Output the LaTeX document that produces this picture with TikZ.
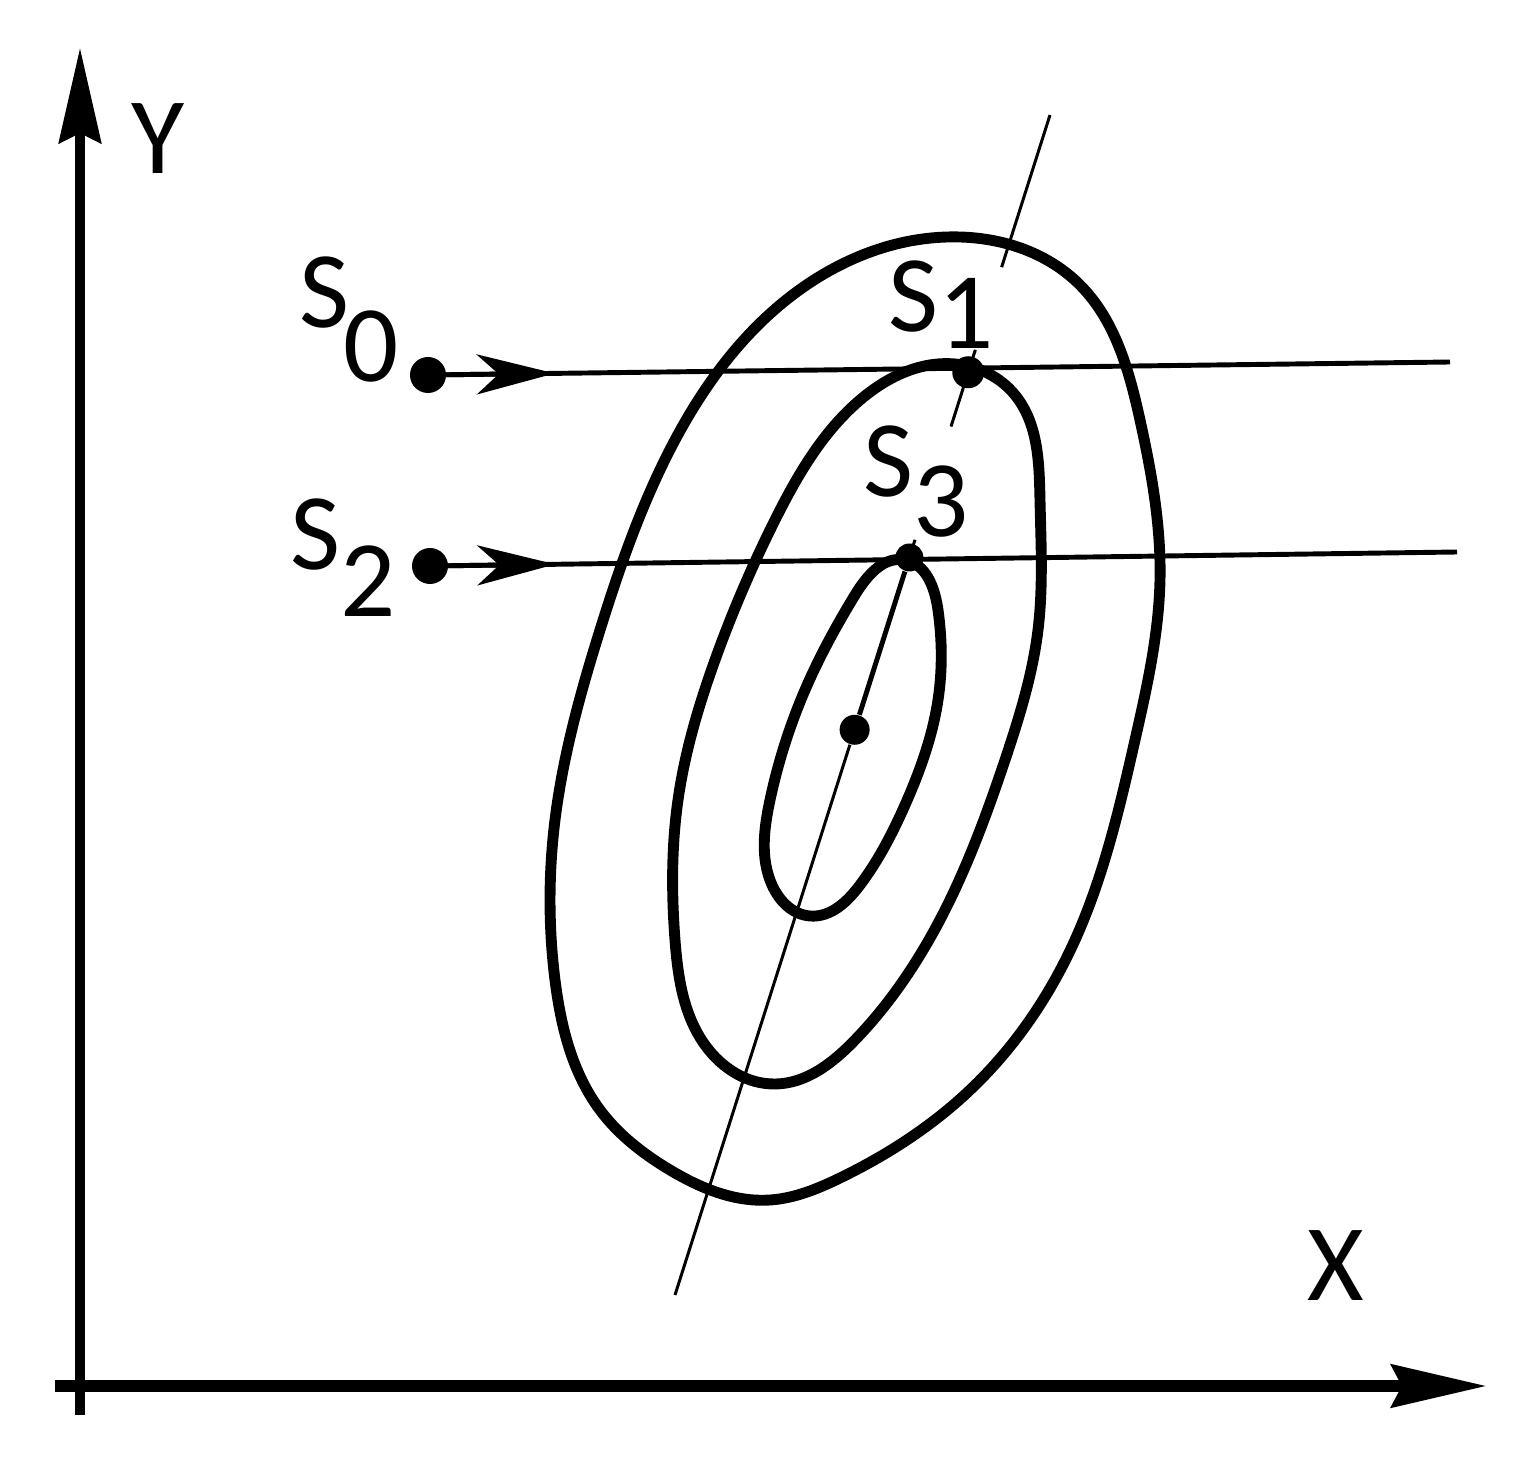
\documentclass[tikz,border=0pt]{standalone}
\usepackage{fontspec}
\setmainfont{Carlito}
\usetikzlibrary{arrows.meta,calc,hobby}
\newcommand{\slabel}[3]{S\kern#3em\raisebox{-#2em}{#1}}
\tikzset{
  contour/.style={line width=3.1pt,line join=round,use Hobby shortcut,closed=true},
  ray/.style={line width=1.4pt},
  guide/.style={line width=0.85pt},
  axis/.style={-{Stealth[length=9.5mm,width=4.2mm,inset=1mm]}},
  flow/.style={ray,-{Stealth[length=7.8mm,width=4mm,inset=2.2mm]}},
  dot/.style={circle,fill,inner sep=0pt,minimum size=#1},
  dot/.default=3mm,
  lbl/.style={inner sep=0pt,font=\fontsize{31}{31}\selectfont},
}
\begin{document}
\begin{tikzpicture}[x=1cm,y=-1cm]
            \useasboundingbox (0,0) rectangle (15.38,14.61);
            % axes
            \coordinate(o1)at(0.80,14.15);
            \coordinate(ytip)at(0.80,0.48);
            \coordinate(o2)at(0.55,13.86);
            \coordinate(xtip)at(14.87,13.86);
            \draw[axis,line width=2.6pt](o1)--(ytip);
            \draw[axis,line width=3.6pt](o2)--(xtip);
            \node[lbl](ylab)at(1.58,1.39){Y};
            \node[lbl](xlab)at(13.36,12.66){X};
            % level curves
            \draw[contour](9.60,2.37)..(10.80,2.85)..(11.40,4.20)..(11.60,5.80)..(11.35,7.40)..(10.75,9.40)..(9.70,10.90)..(8.40,11.78)..(7.70,12.00)..(6.70,11.70)..(6.00,11.10)..(5.55,9.80)..(5.55,8.20)..(6.00,6.30)..(6.75,4.40)..(7.80,3.05);
            \draw[contour](9.55,3.64)..(10.15,3.95)..(10.40,5.00)..(10.38,6.30)..(10.05,7.60)..(9.45,9.10)..(8.55,10.40)..(7.75,10.84)..(7.05,10.45)..(6.75,9.40)..(6.78,8.00)..(7.15,6.60)..(7.75,5.20)..(8.60,4.00);
            \draw[contour](9.05,5.60)..(9.38,6.10)..(9.38,7.00)..(9.05,8.05)..(8.60,8.85)..(8.10,9.16)..(7.72,8.85)..(7.70,8.00)..(8.05,6.90)..(8.55,5.95);
            % search lines
            \coordinate(e0)at(14.50,3.62);
            \coordinate(e2)at(14.57,5.52);
            \coordinate(gtop)at(10.50,1.15);
            \coordinate(gbot)at(6.75,12.95);
            \node[dot=3.6mm](s0)at(4.28,3.75){};
            \node[dot=3.6mm](s2)at(4.30,5.66){};
            \draw[ray](s0.center)--(e0);
            \draw[ray](s2.center)--(e2);
            \draw[flow](s0.center)--($(s0)!0.124!(e0)$);
            \draw[flow](s2.center)--($(s2)!0.122!(e2)$);
            \draw[guide](gtop)--($(gtop)!0.129!(gbot)$);
            \draw[guide]($(gtop)!0.199!(gbot)$)--($(gtop)!0.264!(gbot)$);
            \draw[guide]($(gtop)!0.36!(gbot)$)--($(gtop)!0.375!(gbot)$);
            \node[dot=3.2mm](s1)at($(gtop)!0.218!(gbot)$){};
            \node[dot=2.8mm](s3)at($(gtop)!0.375!(gbot)$){};
            \node[dot](c)at($(gtop)!0.521!(gbot)$){};
            \draw[ray](s3)--(c);
            \draw[guide](c)--(gbot);
            % labels
            \node[lbl,anchor=base west](l0)at(2.99,3.28){\slabel{0}{0.49}{-0.06}};
            \node[lbl,anchor=base west](l1)at(8.88,3.32){\slabel{1}{0.15}{0}};
            \node[lbl,anchor=base west](l2)at(2.90,5.70){\slabel{2}{0.43}{0}};
            \node[lbl,anchor=base west](l3)at(8.63,4.97){\slabel{3}{0.36}{0}};
        \end{tikzpicture}
\end{document}
